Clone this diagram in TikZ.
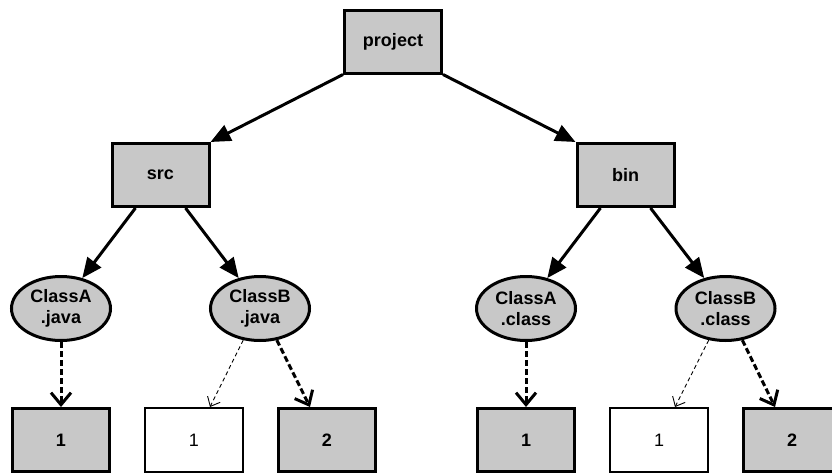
\documentclass[tikz,border=0pt]{standalone}
\usepackage{fontspec}
\setmainfont{Liberation Sans}
\usetikzlibrary{arrows.meta,shapes.geometric}
\definecolor{boxgray}{RGB}{200,200,200}
\begin{document}
\begin{tikzpicture}[x=1pt,y=-1pt,
  gbox/.style={draw,line width=3pt,fill=boxgray,minimum width=97pt,minimum height=63pt,
    inner sep=0pt,font=\fontsize{18}{21}\selectfont\bfseries},
  wbox/.style={draw,line width=2pt,fill=white,minimum width=98pt,minimum height=64pt,
    inner sep=0pt,font=\fontsize{18}{21}\selectfont},
  gell/.style={ellipse,draw,line width=3pt,fill=boxgray,minimum width=99pt,minimum height=64pt,
    inner sep=0pt,align=center,font=\fontsize{18}{21}\selectfont\bfseries},
  tree/.style={line width=3pt,-{Triangle[length=20pt,width=17pt]}},
  dep/.style={line width=3pt,dash pattern=on 6pt off 3pt,-{Straight Barb[length=12pt,width=20pt]}},
  weak/.style={line width=0.9pt,dash pattern=on 4pt off 3pt,-{Straight Barb[length=8pt,width=14pt,line width=0.9pt]}},
]
\useasboundingbox (0,0) rectangle (832,474);

% top level and directories
\node[gbox] (project) at (393,41.5) {project};
\node[gbox] (src) at (160.5,175) {src};
\node[gbox] (bin) at (625.5,175) {bin};

% source files
\node[gell] (ja) at (61,308.5) {ClassA\\.java};
\node[gell] (jb) at (260,308.5) {ClassB\\.java};
% class files
\node[gell] (ca) at (526,308.5) {ClassA\\.class};
\node[gell] (cb) at (725.5,308.5) {ClassB\\.class};

% versions under src
\node[gbox] (ja1) at (61,440) {1};
\node[wbox] (jb1) at (194,440) {1};
\node[gbox] (jb2) at (327,440) {2};
% versions under bin
\node[gbox] (ca1) at (526,440) {1};
\node[wbox] (cb1) at (659,440) {1};
\node[gbox] (cb2) at (792,440) {2};

% tree edges
\draw[tree] (project.south west) -- (src.north east);
\draw[tree] (project.south east) -- (bin.north west);
\draw[tree] ([xshift=-25pt]src.south) -- (ja.55);
\draw[tree] ([xshift=25pt]src.south) -- (jb.125);
\draw[tree] ([xshift=-25pt]bin.south) -- (ca.55);
\draw[tree] ([xshift=25pt]bin.south) -- (cb.125);

% version links
\draw[dep] (ja.south) -- (ja1.north);
\draw[weak] (jb.242) -- ([xshift=16pt]jb1.north);
\draw[dep] (jb.298) -- ([xshift=-17pt]jb2.north);
\draw[dep] (ca.south) -- (ca1.north);
\draw[weak] (cb.242) -- ([xshift=16pt]cb1.north);
\draw[dep] (cb.298) -- ([xshift=-17pt]cb2.north);
\end{tikzpicture}
\end{document}
